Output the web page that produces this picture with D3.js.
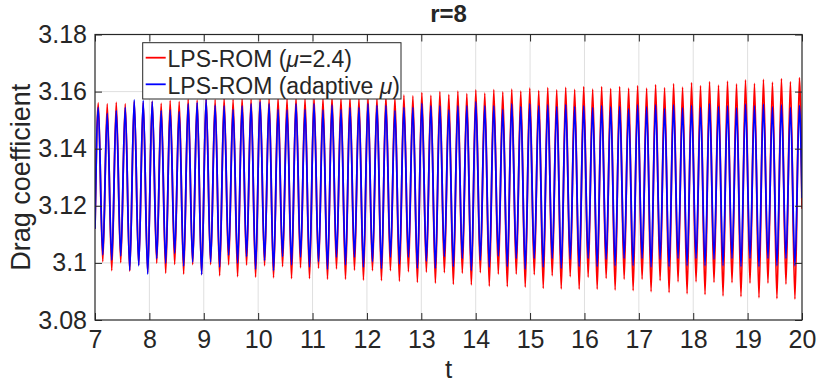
<!DOCTYPE html>
<html>
<head>
<meta charset="utf-8">
<script src="https://cdn.jsdelivr.net/npm/d3@7"></script>
<style>
  body { margin: 0; background: #ffffff; }
  svg { display: block; }
  text { font-family: "Liberation Sans", Arial, Helvetica, sans-serif; fill: #262626; }
</style>
</head>
<body>
<svg id="chart" width="818" height="385"></svg>
<script>
// ---- axis ticks ----
const xTicks = [7, 8, 9, 10, 11, 12, 13, 14, 15, 16, 17, 18, 19, 20];
const yTicks = [3.08, 3.10, 3.12, 3.14, 3.16, 3.18];
const yTickLabels = ["3.08", "3.1", "3.12", "3.14", "3.16", "3.18"];
const tRange = [7, 20];

// ---- times of the local maxima and minima of the drag signal ----
const peakT = [
  7.060, 7.225, 7.391, 7.556, 7.721, 7.886, 8.052, 8.217, 8.382, 8.548,
  8.713, 8.878, 9.043, 9.209, 9.374, 9.539, 9.705, 9.870, 10.035, 10.201,
  10.366, 10.531, 10.696, 10.862, 11.027, 11.192, 11.358, 11.523, 11.688, 11.853,
  12.019, 12.184, 12.349, 12.515, 12.680, 12.845, 13.010, 13.176, 13.341, 13.506,
  13.672, 13.837, 14.002, 14.167, 14.333, 14.498, 14.663, 14.829, 14.994, 15.159,
  15.325, 15.490, 15.655, 15.820, 15.986, 16.151, 16.316, 16.482, 16.647, 16.812,
  16.977, 17.143, 17.308, 17.473, 17.639, 17.804, 17.969, 18.134, 18.300, 18.465,
  18.630, 18.796, 18.961, 19.126, 19.291, 19.457, 19.622, 19.787, 19.953
];
const troughT = [
  7.143, 7.308, 7.473, 7.639, 7.804, 7.969, 8.135, 8.300, 8.465, 8.630,
  8.796, 8.961, 9.126, 9.292, 9.457, 9.622, 9.787, 9.953, 10.118, 10.283,
  10.449, 10.614, 10.779, 10.944, 11.110, 11.275, 11.440, 11.606, 11.771, 11.936,
  12.102, 12.267, 12.432, 12.597, 12.763, 12.928, 13.093, 13.259, 13.424, 13.589,
  13.754, 13.920, 14.085, 14.250, 14.416, 14.581, 14.746, 14.911, 15.077, 15.242,
  15.407, 15.573, 15.738, 15.903, 16.068, 16.234, 16.399, 16.564, 16.730, 16.895,
  17.060, 17.225, 17.391, 17.556, 17.721, 17.887, 18.052, 18.217, 18.382, 18.548,
  18.713, 18.878, 19.044, 19.209, 19.374, 19.539, 19.705, 19.870
];

// ---- LPS-ROM, mu = 2.4 ----
const fixedName = "LPS-ROM (";
const fixedPeaks = [
  3.1560, 3.1557, 3.1562, 3.1557, 3.1565, 3.1562, 3.1566, 3.1559, 3.1568, 3.1565,
  3.1574, 3.1570, 3.1576, 3.1572, 3.1577, 3.1573, 3.1578, 3.1574, 3.1579, 3.1575,
  3.1580, 3.1576, 3.1581, 3.1577, 3.1582, 3.1578, 3.1583, 3.1579, 3.1582, 3.1578,
  3.1584, 3.1579, 3.1586, 3.1581, 3.1588, 3.1585, 3.1596, 3.1587, 3.1600, 3.1589,
  3.1602, 3.1593, 3.1606, 3.1595, 3.1607, 3.1599, 3.1609, 3.1602, 3.1612, 3.1603,
  3.1614, 3.1606, 3.1615, 3.1608, 3.1617, 3.1609, 3.1617, 3.1610, 3.1617, 3.1612,
  3.1621, 3.1612, 3.1624, 3.1614, 3.1628, 3.1616, 3.1631, 3.1621, 3.1635, 3.1623,
  3.1637, 3.1627, 3.1641, 3.1629, 3.1643, 3.1633, 3.1645, 3.1635, 3.1649
];
const fixedTroughs = [
  3.1004, 3.0973, 3.1001, 3.0971, 3.0993, 3.0966, 3.0999, 3.0964, 3.0995, 3.0961,
  3.0994, 3.0960, 3.0994, 3.0955, 3.0993, 3.0952, 3.0992, 3.0950, 3.0990, 3.0948,
  3.0987, 3.0945, 3.0983, 3.0945, 3.0981, 3.0943, 3.0979, 3.0943, 3.0975, 3.0940,
  3.0973, 3.0938, 3.0973, 3.0936, 3.0969, 3.0932, 3.0968, 3.0929, 3.0966, 3.0925,
  3.0964, 3.0923, 3.0966, 3.0919, 3.0961, 3.0917, 3.0961, 3.0915, 3.0959, 3.0911,
  3.0955, 3.0909, 3.0952, 3.0908, 3.0950, 3.0908, 3.0946, 3.0905, 3.0943, 3.0903,
  3.0943, 3.0899, 3.0938, 3.0896, 3.0934, 3.0892, 3.0934, 3.0889, 3.0932, 3.0884,
  3.0931, 3.0882, 3.0929, 3.0878, 3.0929, 3.0875, 3.0926, 3.0873
];
const fixedEnds = [3.1120, 3.1190];

// ---- LPS-ROM, adaptive mu ----
const adaptiveName = "LPS-ROM (adaptive ";
const adaptivePeaks = [
  3.1545, 3.1524, 3.1533, 3.1545, 3.1571, 3.1568, 3.1566, 3.1533, 3.1536, 3.1530,
  3.1557, 3.1561, 3.1573, 3.1552, 3.1550, 3.1538, 3.1550, 3.1557, 3.1564, 3.1557,
  3.1538, 3.1536, 3.1557, 3.1538, 3.1557, 3.1536, 3.1553, 3.1538, 3.1544, 3.1545,
  3.1557, 3.1552, 3.1552, 3.1533, 3.1545, 3.1545, 3.1559, 3.1550, 3.1550, 3.1536,
  3.1550, 3.1550, 3.1564, 3.1550, 3.1550, 3.1538, 3.1557, 3.1547, 3.1557, 3.1550,
  3.1553, 3.1547, 3.1554, 3.1547, 3.1550, 3.1544, 3.1551, 3.1546, 3.1548, 3.1539,
  3.1553, 3.1546, 3.1553, 3.1541, 3.1553, 3.1543, 3.1552, 3.1545, 3.1557, 3.1547,
  3.1550, 3.1543, 3.1556, 3.1550, 3.1556, 3.1546, 3.1553, 3.1545, 3.1551
];
const adaptiveTroughs = [
  3.1028, 3.1010, 3.1024, 3.0975, 3.0990, 3.0961, 3.1015, 3.0999, 3.1034, 3.0989,
  3.1003, 3.0959, 3.1003, 3.0985, 3.1027, 3.0999, 3.1022, 3.0978, 3.1008, 3.0973,
  3.1022, 3.0993, 3.1020, 3.0985, 3.1004, 3.0978, 3.1020, 3.0993, 3.1020, 3.0985,
  3.1004, 3.0980, 3.1020, 3.0996, 3.1020, 3.0981, 3.1006, 3.0981, 3.1022, 3.0987,
  3.1016, 3.0973, 3.1010, 3.0985, 3.1024, 3.0987, 3.1016, 3.0978, 3.1016, 3.0985,
  3.1016, 3.0981, 3.1013, 3.0987, 3.1016, 3.0987, 3.1013, 3.0990, 3.1016, 3.0990,
  3.1016, 3.0985, 3.1013, 3.0987, 3.1016, 3.0990, 3.1016, 3.0990, 3.1013, 3.0990,
  3.1016, 3.0987, 3.1016, 3.0987, 3.1016, 3.0990, 3.1016, 3.0990
];
const adaptiveEnds = [3.1120, 3.1227];

// ---- layout ----
const W = 818, H = 385;
const plot = { left: 95, right: 802, top: 34.5, bottom: 320 };
const axisColor = "#262626";
const gridColor = "#dfdfdf";
const tickLen = 7;

const svg = d3.select("#chart");

const x = d3.scaleLinear().domain(tRange).range([plot.left, plot.right]);
const y = d3.scaleLinear().domain([yTicks[0], yTicks[yTicks.length - 1]]).range([plot.bottom, plot.top]);

// assemble the signal: start value, alternating maxima / minima, end value
function buildSeries(peaks, troughs, ends) {
  const pts = [[tRange[0], ends[0]]];
  peakT.forEach((t, i) => {
    pts.push([t, peaks[i]]);
    if (i < troughT.length) pts.push([troughT[i], troughs[i]]);
  });
  pts.push([tRange[1], ends[1]]);
  return pts;
}
const series = [
  { name: fixedName, mu: "μ", suffix: "=2.4)", color: "#ff0000", pts: buildSeries(fixedPeaks, fixedTroughs, fixedEnds) },
  { name: adaptiveName, mu: "μ", suffix: ")", color: "#0000ff", pts: buildSeries(adaptivePeaks, adaptiveTroughs, adaptiveEnds) }
];

// grid
const grid = svg.append("g");
grid.selectAll("line.gx").data(xTicks.slice(1, -1)).join("line")
  .attr("x1", d => x(d)).attr("x2", d => x(d))
  .attr("y1", plot.top).attr("y2", plot.bottom)
  .attr("stroke", gridColor).attr("stroke-width", 1);
grid.selectAll("line.gy").data(yTicks.slice(1, -1)).join("line")
  .attr("y1", d => y(d)).attr("y2", d => y(d))
  .attr("x1", plot.left).attr("x2", plot.right)
  .attr("stroke", gridColor).attr("stroke-width", 1);

// clip
svg.append("clipPath").attr("id", "plotClip").append("rect")
  .attr("x", plot.left).attr("y", plot.top)
  .attr("width", plot.right - plot.left).attr("height", plot.bottom - plot.top);

const line = d3.line().x(d => x(d[0])).y(d => y(d[1])).curve(d3.curveMonotoneX);
const lines = svg.append("g").attr("clip-path", "url(#plotClip)");
series.forEach(s => {
  lines.append("path").datum(s.pts)
    .attr("d", line)
    .attr("fill", "none")
    .attr("stroke", s.color)
    .attr("stroke-width", 1.8)
    .attr("stroke-linejoin", "round");
});

// axes
function styleAxis(g) {
  g.select(".domain").remove();
  g.selectAll(".tick line").attr("stroke", axisColor).attr("stroke-width", 1);
  g.selectAll(".tick text").attr("fill", axisColor).style("font-size", "25px");
}
svg.append("g").attr("transform", `translate(0,${plot.bottom})`)
  .call(d3.axisBottom(x).tickValues(xTicks).tickFormat(d3.format("d")).tickSizeInner(-tickLen).tickSizeOuter(0).tickPadding(10))
  .call(styleAxis);
svg.append("g").attr("transform", `translate(0,${plot.top})`)
  .call(d3.axisTop(x).tickValues(xTicks).tickFormat("").tickSizeInner(-tickLen).tickSizeOuter(0))
  .call(styleAxis);
svg.append("g").attr("transform", `translate(${plot.left},0)`)
  .call(d3.axisLeft(y).tickValues(yTicks).tickFormat((d, i) => yTickLabels[i]).tickSizeInner(-tickLen).tickSizeOuter(0).tickPadding(8))
  .call(styleAxis);
svg.append("g").attr("transform", `translate(${plot.right},0)`)
  .call(d3.axisRight(y).tickValues(yTicks).tickFormat("").tickSizeInner(-tickLen).tickSizeOuter(0))
  .call(styleAxis);

// box
svg.append("rect")
  .attr("x", plot.left).attr("y", plot.top)
  .attr("width", plot.right - plot.left).attr("height", plot.bottom - plot.top)
  .attr("fill", "none").attr("stroke", axisColor).attr("stroke-width", 1.2);

// labels
svg.append("text")
  .attr("x", (plot.left + plot.right) / 2).attr("y", 22)
  .attr("text-anchor", "middle").style("font-size", "24px").style("font-weight", "bold")
  .attr("fill", "#000").text("r=8");
svg.append("text")
  .attr("x", (plot.left + plot.right) / 2).attr("y", 378)
  .attr("text-anchor", "middle").style("font-size", "26px").text("t");
svg.append("text")
  .attr("transform", `translate(30,${(plot.top + plot.bottom) / 2}) rotate(-90)`)
  .attr("text-anchor", "middle").style("font-size", "27px").text("Drag coefficient");

// legend
const legend = svg.append("g");
legend.append("rect")
  .attr("x", 142.7).attr("y", 42.7).attr("width", 258.3).attr("height", 56.3)
  .attr("fill", "#ffffff").attr("stroke", axisColor).attr("stroke-width", 1);
const rowY = [57.7, 84.3];
series.forEach((s, i) => {
  legend.append("line")
    .attr("x1", 145.7).attr("x2", 165.7).attr("y1", rowY[i]).attr("y2", rowY[i])
    .attr("stroke", s.color).attr("stroke-width", 1.8);
  const t = legend.append("text")
    .attr("x", 167.5).attr("y", rowY[i] + 9.3)
    .style("font-size", "23px").attr("fill", "#000");
  t.append("tspan").text(s.name);
  t.append("tspan").style("font-style", "italic").text(s.mu);
  t.append("tspan").text(s.suffix);
});
</script>
</body>
</html>
